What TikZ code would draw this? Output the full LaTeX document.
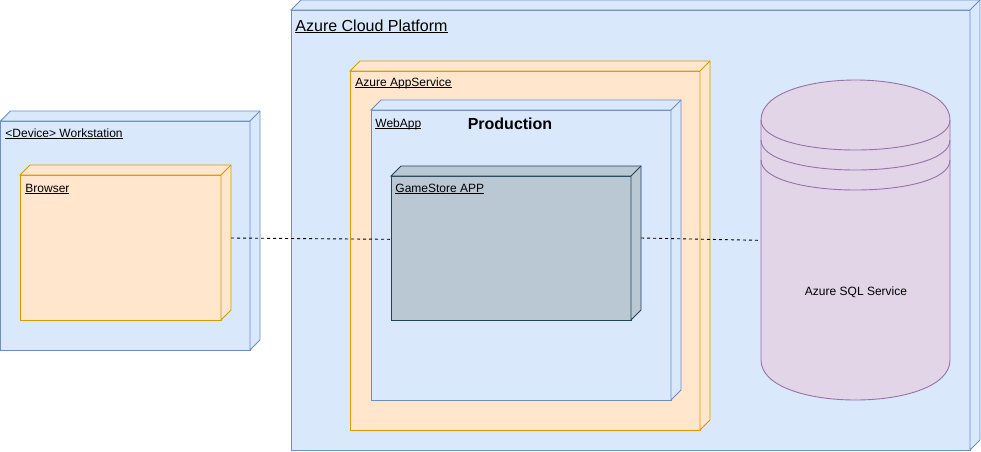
\documentclass[tikz,border=0pt]{standalone}
\usepackage{fontspec}
\setmainfont{Liberation Sans}
\definecolor{bfill}{HTML}{DAE8FC}
\definecolor{bline}{HTML}{6C8EBF}
\definecolor{ofill}{HTML}{FFE6CC}
\definecolor{oline}{HTML}{D79B00}
\definecolor{gfill}{HTML}{BAC8D3}
\definecolor{gline}{HTML}{23445D}
\definecolor{pfill}{HTML}{E1D5E7}
\definecolor{pline}{HTML}{9673A6}
\newsavebox\ulbox
\newcommand\ulx[1]{\sbox\ulbox{#1}\rlap{\rule[-1.4pt]{\wd\ulbox}{0.75pt}}\usebox\ulbox}
% name, x, y, w, h, depth, fill, line
\newcommand\isobox[8]{%
  \node[draw=#8, fill=#7, minimum width=#4pt, minimum height=#5pt, anchor=north west,
        inner sep=0pt, outer sep=0pt] (#1) at (#2,#3) {};
  \draw[draw=#8, fill=#7, line join=miter] (#1.north west) -- ++(#6,-#6) -- ++(#4,0) -- ++(0,#5)
        -- (#1.south east) -- (#1.north east) -- cycle;
  \draw[draw=#8] (#1.north east) -- ++(#6,-#6);
}
\begin{document}
\begin{tikzpicture}[x=1pt, y=-1pt, line width=0.9pt,
  lbl/.style={anchor=base west, inner sep=0pt, font=\fontsize{12}{14}\selectfont},
  conn/.style={draw=black, line width=0.9pt, dash pattern=on 3pt off 3pt}]
\useasboundingbox (0,0) rectangle (981,451);

% Workstation and browser
\isobox{ws}{0.5}{121}{249.5}{229}{10}{bfill}{bline}
\isobox{browser}{20}{175}{201}{145}{10}{ofill}{oline}

% Azure cloud
\isobox{cloud}{291}{10}{679}{440}{10}{bfill}{bline}
\isobox{appsvc}{350}{71}{350}{359}{10}{ofill}{oline}
\isobox{webapp}{371}{110}{300}{290}{10}{bfill}{bline}
\isobox{gamestore}{391}{176}{240}{144}{10}{gfill}{gline}

% SQL datastore
\node[minimum width=189pt, minimum height=320pt, inner sep=0pt, outer sep=0pt] (sql) at (855.5,240) {};
\draw[draw=pline, fill=pfill] (761,120) .. controls (761,66.67) and (950,66.67) .. (950,120)
  -- (950,360) .. controls (950,413.33) and (761,413.33) .. (761,360) -- cycle;
\draw[draw=pline] (761,120) .. controls (761,160) and (950,160) .. (950,120);
\draw[draw=pline] (761,140) .. controls (761,180) and (950,180) .. (950,140);
\draw[draw=pline] (761,160) .. controls (761,200) and (950,200) .. (950,160);
\node[inner sep=0pt, anchor=base, font=\fontsize{12}{14}\selectfont] (sqllabel) at (856,295) {Azure SQL Service};

% Connectors
\draw[conn] ([shift={(10,-9.5)}]browser.east) -- ([shift={(-1,-8.7)}]gamestore.west);
\draw[conn] ([shift={(10,-10)}]gamestore.east) -- ([shift={(-3,0.3)}]sql.west);

% Labels
\node[lbl, font=\fontsize{16}{18}\selectfont] (cloudlbl) at (295,31) {\ulx{Azure Cloud Platform}};
\node[lbl] (wslbl) at (5,137) {\ulx{<Device> Workstation}};
\node[lbl] (browserlbl) at (25,192) {\ulx{Browser}};
\node[lbl] (appsvclbl) at (355,86.5) {\ulx{Azure AppService}};
\node[lbl] (webapplbl) at (375,127) {\ulx{WebApp}};
\node[anchor=base, inner sep=0pt, font=\bfseries\fontsize{16}{18}\selectfont] (prodlbl) at (510,129) {Production};
\node[lbl] (gamestorelbl) at (395,192) {\ulx{GameStore APP}};
\end{tikzpicture}
\end{document}
